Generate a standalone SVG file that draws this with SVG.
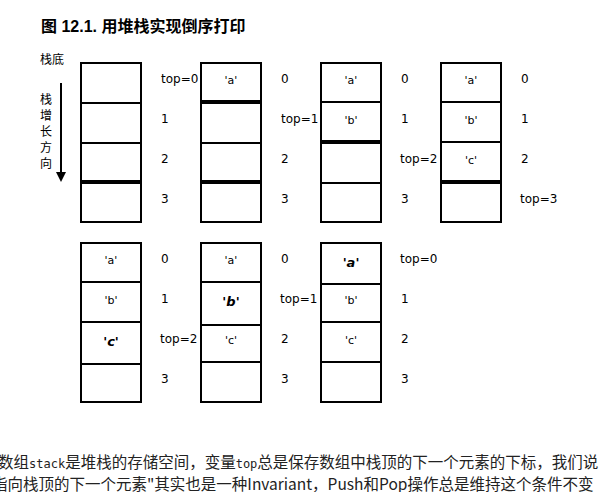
<svg xmlns="http://www.w3.org/2000/svg" width="602" height="492" viewBox="0 0 602 492">
<style>
.c{fill:#fff;stroke:#000;stroke-width:2}
.t{font-family:"DejaVu Sans","Noto Sans CJK SC",sans-serif;font-size:12px;fill:#000}
.m{font-family:"DejaVu Sans",sans-serif;font-size:11px;text-anchor:middle}
.b{font-family:"DejaVu Sans",sans-serif;font-size:13px;font-weight:bold;font-style:italic;text-anchor:middle}
.k{stroke:#000;stroke-width:4}
</style>
<rect width="602" height="492" fill="#fff"/>
<text x="41" y="32" font-family="Liberation Sans,'Noto Sans CJK SC',sans-serif" font-size="16" font-weight="bold">图 12.1. 用堆栈实现倒序打印</text>
<g id="legend">
<text class="t" x="40" y="64" font-size="11">栈底</text>
<text class="t" x="40" y="104">栈</text><text class="t" x="40" y="120">增</text><text class="t" x="40" y="136">长</text><text class="t" x="40" y="152">方</text><text class="t" x="40" y="168">向</text>
</g>
<g id="connectors"><line x1="61" y1="83" x2="61" y2="174" stroke="#000" stroke-width="2"/><polygon points="56,172 66,172 61,182"/></g>
<g id="s1"><rect class="c" x="81" y="63" width="60" height="159"/><line class="c" x1="81" y1="103" x2="141" y2="103"/><line class="c" x1="81" y1="143" x2="141" y2="143"/><line class="k" x1="81" y1="182" x2="141" y2="182"/>
<text class="t" x="161" y="83">top=0</text><text class="t" x="161" y="123">1</text><text class="t" x="161" y="163">2</text><text class="t" x="161" y="203">3</text></g>
<g id="s2"><rect class="c" x="201" y="63" width="60" height="159"/><line class="k" x1="201" y1="102" x2="261" y2="102"/><line class="c" x1="201" y1="143" x2="261" y2="143"/><line class="k" x1="201" y1="182" x2="261" y2="182"/>
<text class="m" x="231" y="84">'a'</text>
<text class="t" x="281" y="83">0</text><text class="t" x="281" y="123">top=1</text><text class="t" x="281" y="163">2</text><text class="t" x="281" y="203">3</text></g>
<g id="s3"><rect class="c" x="321" y="63" width="60" height="159"/><line class="c" x1="321" y1="102" x2="381" y2="102"/><line class="k" x1="321" y1="142" x2="381" y2="142"/><line class="c" x1="321" y1="183" x2="381" y2="183"/>
<text class="m" x="351" y="84">'a'</text><text class="m" x="351" y="124">'b'</text>
<text class="t" x="401" y="83">0</text><text class="t" x="401" y="123">1</text><text class="t" x="400" y="163">top=2</text><text class="t" x="401" y="203">3</text></g>
<g id="s4"><rect class="c" x="441" y="63" width="60" height="159"/><line class="c" x1="441" y1="102" x2="501" y2="102"/><line class="c" x1="441" y1="142" x2="501" y2="142"/><line class="k" x1="441" y1="182" x2="501" y2="182"/>
<text class="m" x="471" y="84">'a'</text><text class="m" x="471" y="124">'b'</text><text class="m" x="471" y="164">'c'</text>
<text class="t" x="521" y="83">0</text><text class="t" x="521" y="123">1</text><text class="t" x="521" y="163">2</text><text class="t" x="520" y="203">top=3</text></g>
<g id="s5"><rect class="c" x="81" y="243" width="60" height="159"/><line class="c" x1="81" y1="282" x2="141" y2="282"/><line class="c" x1="81" y1="322" x2="141" y2="322"/><line class="c" x1="81" y1="364" x2="141" y2="364"/>
<text class="m" x="111" y="264">'a'</text><text class="m" x="111" y="304">'b'</text><text class="b" x="111" y="346">'c'</text>
<text class="t" x="161" y="263">0</text><text class="t" x="161" y="303">1</text><text class="t" x="160" y="343">top=2</text><text class="t" x="161" y="383">3</text></g>
<g id="s6"><rect class="c" x="201" y="243" width="60" height="159"/><line class="c" x1="201" y1="282" x2="261" y2="282"/><line class="c" x1="201" y1="325" x2="261" y2="325"/><line class="c" x1="201" y1="362" x2="261" y2="362"/>
<text class="m" x="231" y="264">'a'</text><text class="b" x="231" y="306">'b'</text><text class="m" x="231" y="344">'c'</text>
<text class="t" x="281" y="263">0</text><text class="t" x="280" y="303">top=1</text><text class="t" x="281" y="343">2</text><text class="t" x="281" y="383">3</text></g>
<g id="s7"><rect class="c" x="321" y="243" width="60" height="159"/><line class="c" x1="321" y1="284" x2="381" y2="284"/><line class="c" x1="321" y1="322" x2="381" y2="322"/><line class="c" x1="321" y1="362" x2="381" y2="362"/>
<text class="b" x="351" y="267">'a'</text><text class="m" x="351" y="304">'b'</text><text class="m" x="351" y="344">'c'</text>
<text class="t" x="400" y="263">top=0</text><text class="t" x="401" y="303">1</text><text class="t" x="401" y="343">2</text><text class="t" x="401" y="383">3</text></g>
<g font-family="'Noto Sans CJK SC',sans-serif" font-size="15.5" fill="#222">
<text x="-2" y="468">数组<tspan font-family="DejaVu Sans Mono" font-size="12">stack</tspan>是堆栈的存储空间，变量<tspan font-family="DejaVu Sans Mono" font-size="12">top</tspan>总是保存数组中栈顶的下一个元素的下标，我们说</text>
<text x="-8" y="490">指向栈顶的下一个元素"其实也是一种Invariant，Push和Pop操作总是维持这个条件不变</text>
</g>
</svg>
